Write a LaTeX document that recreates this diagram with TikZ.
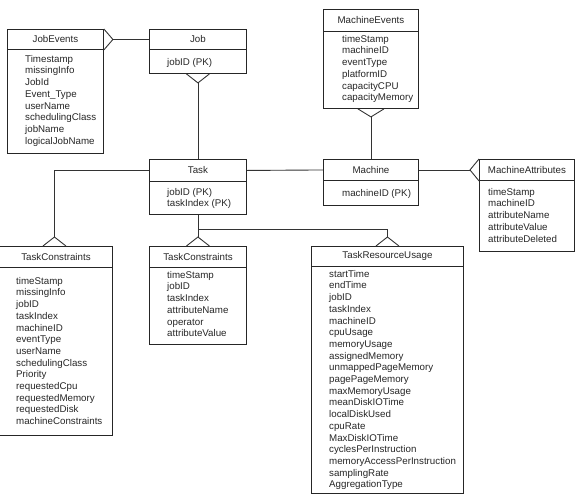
\documentclass[tikz,border=0pt]{standalone}
\usepackage{fontspec}
\setmainfont{Liberation Sans}
\usetikzlibrary{calc}
\begin{document}
\begin{tikzpicture}[x=1pt,y=-1pt,
  ebox/.style={draw=black!85, line width=0.9pt, rectangle, inner sep=0pt, anchor=north west,
    font=\fontsize{9.75}{11.7}\selectfont, text=black!85},
  txt/.style={inner sep=0pt, anchor=north west, align=left,
    font=\fontsize{9.75}{11.7}\selectfont, text=black!85},
  conn/.style={draw=black!80, line width=0.9pt},
  crow/.style={draw=black!80, line width=0.9pt}]
\useasboundingbox (0,0) rectangle (579,496);
\clip (0,0) rectangle (579,496);

% JobEvents
\node[ebox, minimum width=96pt, minimum height=20pt] (jeH) at (7,29) {JobEvents};
\node[ebox, minimum width=96pt, minimum height=104pt] (jeB) at (7,49) {};
\node[txt] (jeT) at (25,55) {Timestamp\\missingInfo\\JobId\\Event\_Type\\userName\\schedulingClass\\jobName\\logicalJobName};

% Job
\node[ebox, minimum width=97pt, minimum height=20pt] (jobH) at (149,29) {Job};
\node[ebox, minimum width=97pt, minimum height=24pt] (jobB) at (149,49) {};
\node[txt] (jobT) at (167,58) {jobID (PK)};

% Task
\node[ebox, minimum width=97pt, minimum height=22pt] (taskH) at (149,159) {Task};
\node[ebox, minimum width=97pt, minimum height=33pt] (taskB) at (149,181) {};
\node[txt] (taskT) at (167,188) {jobID (PK)\\taskIndex (PK)};

% MachineEvents
\node[ebox, minimum width=95pt, minimum height=22pt] (meH) at (323,9) {MachineEvents};
\node[ebox, minimum width=95pt, minimum height=77pt] (meB) at (323,31) {};
\node[txt] (meT) at (342,35) {timeStamp\\machineID\\eventType\\platformID\\capacityCPU\\capacityMemory};

% Machine
\node[ebox, minimum width=95pt, minimum height=21pt] (mH) at (323,159) {Machine};
\node[ebox, minimum width=95pt, minimum height=25pt] (mB) at (323,180) {};
\node[txt] (mT) at (342,189) {machineID (PK)};

% MachineAttributes
\node[ebox, minimum width=95pt, minimum height=21pt] (maH) at (479,159) {MachineAttributes};
\node[ebox, minimum width=95pt, minimum height=71pt] (maB) at (479,180) {};
\node[txt] (maT) at (488,188) {timeStamp\\machineID\\attributeName\\attributeValue\\attributeDeleted};

% TaskConstraints (left)
\node[ebox, minimum width=113pt, minimum height=21pt] (tc1H) at (-1,246) {TaskConstraints};
\node[ebox, minimum width=113pt, minimum height=168pt] (tc1B) at (-1,267) {};
\node[txt] (tc1T) at (16,277) {timeStamp\\missingInfo\\jobID\\taskIndex\\machineID\\eventType\\userName\\schedulingClass\\Priority\\requestedCpu\\requestedMemory\\requestedDisk\\machineConstraints};

% TaskConstraints (middle)
\node[ebox, minimum width=97pt, minimum height=21pt] (tc2H) at (149,246) {TaskConstraints};
\node[ebox, minimum width=97pt, minimum height=77pt] (tc2B) at (149,267) {};
\node[txt] (tc2T) at (167,271) {timeStamp\\jobID\\taskIndex\\attributeName\\operator\\attributeValue};

% TaskResourceUsage
\node[ebox, minimum width=152pt, minimum height=20pt] (truH) at (311,246) {TaskResourceUsage};
\node[ebox, minimum width=152pt, minimum height=227pt] (truB) at (311,266) {};
\node[txt] (truT) at (329,270) {startTime\\endTime\\jobID\\taskIndex\\machineID\\cpuUsage\\memoryUsage\\assignedMemory\\unmappedPageMemory\\pagePageMemory\\maxMemoryUsage\\meanDiskIOTime\\localDiskUsed\\cpuRate\\MaxDiskIOTime\\cyclesPerInstruction\\memoryAccessPerInstruction\\samplingRate\\AggregationType};

% ---- connectors ----
% JobEvents -- Job
\coordinate (c1) at ($(jeH.east)+(9,0)$);
\draw[crow] (jeH.north east) -- (c1) -- (jeH.south east);
\draw[conn] (c1) -- (jobH.west);

% Job -- Task
\coordinate (c2) at ($(jobB.south)+(0,9)$);
\draw[crow] ($(jobB.south)+(-11.5,0)$) -- (c2) -- ($(jobB.south)+(11.5,0)$);
\draw[conn] (c2) -- (taskH.north);

% Task -- TaskConstraints (left)
\coordinate (c3) at ($(tc1H.north)+(-1.5,-9)$);
\coordinate (k3) at (c3 |- taskH.west);
\draw[crow] ($(tc1H.north)+(-13,0)$) -- (c3) -- ($(tc1H.north)+(10,0)$);
\draw[conn] (taskH.west) -- (k3) -- (c3);

% Task -- Machine
\draw[conn] (taskH.east) -- (mH.west);

% Task -- TaskConstraints (middle)
\coordinate (c4) at ($(tc2H.north)+(0,-9)$);
\draw[crow] ($(tc2H.north)+(-11.5,0)$) -- (c4) -- ($(tc2H.north)+(11.5,0)$);
\draw[conn] (taskB.south) -- (c4);

% Task -- TaskResourceUsage
\coordinate (c5) at ($(truH.north)+(0,-9)$);
\coordinate (k5a) at ($(taskB.south)+(0,15)$);
\coordinate (k5b) at (c5 |- k5a);
\draw[crow] ($(truH.north)+(-11.5,0)$) -- (c5) -- ($(truH.north)+(11.5,0)$);
\draw[conn] (k5a) -- (k5b) -- (c5);

% MachineEvents -- Machine
\coordinate (c6) at ($(meB.south)+(0,8)$);
\draw[crow] ($(meB.south)+(-13,0)$) -- (c6) -- ($(meB.south)+(13,0)$);
\draw[conn] (c6) -- (mH.north);

% Machine -- MachineAttributes
\coordinate (c7) at ($(maH.west)+(-9,0)$);
\draw[crow] (maH.north west) -- (c7) -- (maH.south west);
\draw[conn] (mH.east) -- (c7);
\end{tikzpicture}
\end{document}
